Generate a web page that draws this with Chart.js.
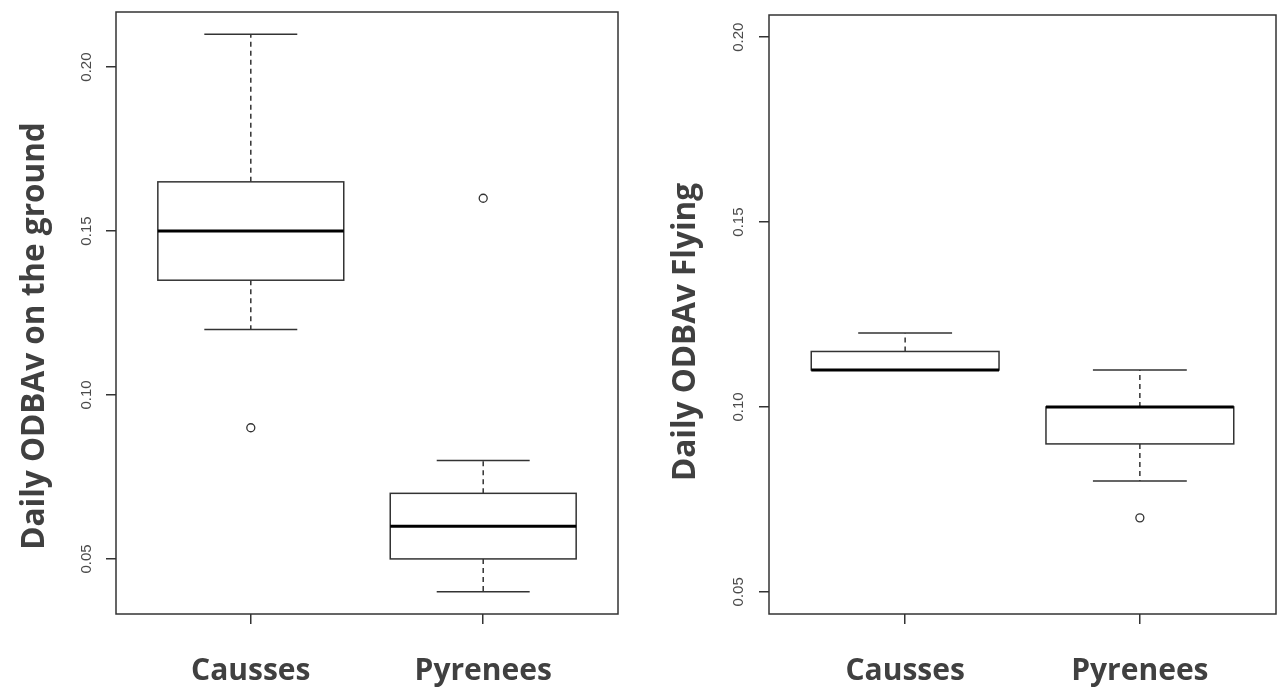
<!DOCTYPE html>
<html>
<head>
<meta charset="utf-8">
<script src="https://cdn.jsdelivr.net/npm/chart.js@4.4.1/dist/chart.umd.min.js"></script>
<style>
  html, body { margin: 0; padding: 0; background: #ffffff; }
  body { width: 1277px; height: 690px; position: relative; overflow: hidden; }
  .panel { position: absolute; top: 0; height: 690px; }
  #p1 { left: 0; width: 640px; }
  #p2 { left: 640px; width: 637px; }
</style>
</head>
<body>
<div class="panel" id="p1"><canvas id="c1"></canvas></div>
<div class="panel" id="p2"><canvas id="c2"></canvas></div>
<script>
// ---------- data ----------
const categories = ['Causses', 'Pyrenees'];
const categoryPositions = [1, 2];

// Left panel: Daily ODBAv on the ground
const groundWhiskerLow  = [0.12, 0.04];
const groundQ1          = [0.135, 0.05];
const groundMedian      = [0.15, 0.06];
const groundQ3          = [0.165, 0.07];
const groundWhiskerHigh = [0.21, 0.08];
const groundOutliers    = [[0.09], [0.16]];

// Right panel: Daily ODBAv Flying
const flyWhiskerLow  = [0.11, 0.08];
const flyQ1          = [0.11, 0.09];
const flyMedian      = [0.11, 0.10];
const flyQ3          = [0.115, 0.10];
const flyWhiskerHigh = [0.12, 0.11];
const flyOutliers    = [[], [0.07]];

const yTickValues = [0.05, 0.10, 0.15, 0.20];
const groundTitle = 'Daily ODBAv on the ground';
const flyTitle = 'Daily ODBAv Flying';

// R-style 4% axis extension
function rRange(lo, hi) { const d = (hi - lo) * 0.04; return [lo - d, hi + d]; }
const xRange = rRange(0.5, 2.5);
const groundYRange = rRange(Math.min(...groundWhiskerLow, ...groundOutliers.flat()),
                            Math.max(...groundWhiskerHigh, ...groundOutliers.flat()));
const flyYRange = rRange(0.05, 0.20);

// ---------- styling ----------
const LINE = '#333333';
const TEXT = '#404040';
const TICK_TEXT = '#4a4a4a';

function boxPlugin(stats, title, titleOffsetX, titleCenterY) {
  return {
    id: 'boxdraw',
    beforeDatasetsDraw(chart) {
      const ctx = chart.ctx;
      const xs = chart.scales.x, ys = chart.scales.y;
      const ca = chart.chartArea;
      ctx.save();
      for (let i = 0; i < categoryPositions.length; i++) {
        const c = categoryPositions[i];
        const xl = xs.getPixelForValue(c - 0.4), xr = xs.getPixelForValue(c + 0.4);
        const cl = xs.getPixelForValue(c - 0.2), cr = xs.getPixelForValue(c + 0.2);
        const xc = xs.getPixelForValue(c);
        const yLo = ys.getPixelForValue(stats.low[i]);
        const yQ1 = ys.getPixelForValue(stats.q1[i]);
        const yMed = ys.getPixelForValue(stats.med[i]);
        const yQ3 = ys.getPixelForValue(stats.q3[i]);
        const yHi = ys.getPixelForValue(stats.high[i]);
        ctx.strokeStyle = LINE;
        ctx.lineWidth = 1.5;
        // whiskers (dashed)
        ctx.setLineDash([5, 4]);
        ctx.beginPath();
        ctx.moveTo(xc, yQ3); ctx.lineTo(xc, yHi);
        ctx.moveTo(xc, yQ1); ctx.lineTo(xc, yLo);
        ctx.stroke();
        ctx.setLineDash([]);
        // caps
        ctx.beginPath();
        ctx.moveTo(cl, yHi); ctx.lineTo(cr, yHi);
        ctx.moveTo(cl, yLo); ctx.lineTo(cr, yLo);
        ctx.stroke();
        // box
        ctx.fillStyle = '#ffffff';
        ctx.fillRect(xl, yQ3, xr - xl, yQ1 - yQ3);
        ctx.strokeRect(xl, yQ3, xr - xl, yQ1 - yQ3);
        // median
        ctx.strokeStyle = '#000000';
        ctx.lineWidth = 3;
        ctx.beginPath();
        ctx.moveTo(xl, yMed); ctx.lineTo(xr, yMed);
        ctx.stroke();
      }
      // frame
      ctx.strokeStyle = LINE;
      ctx.lineWidth = 1.5;
      ctx.strokeRect(ca.left, ca.top, ca.right - ca.left, ca.bottom - ca.top);
      // y title
      ctx.fillStyle = TEXT;
      ctx.font = 'bold 31.5px "Open Sans"';
      ctx.textAlign = 'center';
      ctx.textBaseline = 'middle';
      ctx.translate(ca.left - titleOffsetX, titleCenterY);
      ctx.rotate(-Math.PI / 2);
      ctx.fillText(title, 0, 0);
      ctx.restore();
    }
  };
}

function makeChart(canvasId, stats, outliers, yRange, title, layout) {
  const outlierPoints = [];
  outliers.forEach((arr, i) => arr.forEach(v => outlierPoints.push({ x: categoryPositions[i], y: v })));
  return new Chart(document.getElementById(canvasId), {
    type: 'scatter',
    data: {
      datasets: [{
        data: outlierPoints,
        pointStyle: 'circle',
        pointRadius: 4,
        pointBorderWidth: 1.3,
        pointBorderColor: LINE,
        pointBackgroundColor: '#ffffff'
      }]
    },
    options: {
      responsive: true,
      maintainAspectRatio: false,
      animation: false,
      layout: { padding: layout.padding, autoPadding: false },
      plugins: { legend: { display: false }, tooltip: { enabled: false } },
      scales: {
        x: {
          type: 'linear',
          min: xRange[0], max: xRange[1],
          afterBuildTicks(scale) { scale.ticks = categoryPositions.map(v => ({ value: v })); },
          afterFit(scale) {
            scale.height = layout.xAxisHeight;
            scale.paddingLeft = 0; scale.paddingRight = 0;
          },
          border: { display: false },
          grid: { display: true, drawOnChartArea: false, drawTicks: true, tickLength: 10, color: LINE, lineWidth: 1.5 },
          ticks: {
            autoSkip: false,
            maxRotation: 0, minRotation: 0,
            padding: 29,
            color: TEXT,
            font: { family: '"Open Sans"', weight: 'bold', size: 30 },
            callback(v) { const i = categoryPositions.indexOf(v); return i >= 0 ? categories[i] : ''; }
          }
        },
        y: {
          type: 'linear',
          min: yRange[0], max: yRange[1],
          afterBuildTicks(scale) { scale.ticks = yTickValues.map(v => ({ value: v })); },
          afterFit(scale) {
            scale.width = layout.yAxisWidth;
            scale.paddingTop = 0; scale.paddingBottom = 0;
          },
          border: { display: false },
          grid: { display: true, drawOnChartArea: false, drawTicks: true, tickLength: 10, color: LINE, lineWidth: 1.5 },
          ticks: {
            minRotation: 90, maxRotation: 90,
            crossAlign: 'center',
            padding: layout.yTickPad,
            color: TICK_TEXT,
            font: { family: '"Liberation Sans"', size: 15 },
            callback(v) { return Number(v).toFixed(2); }
          }
        }
      }
    },
    plugins: [boxPlugin(stats, title, layout.titleOffsetX, layout.titleCenterY)]
  });
}

makeChart('c1',
  { low: groundWhiskerLow, q1: groundQ1, med: groundMedian, q3: groundQ3, high: groundWhiskerHigh },
  groundOutliers, groundYRange, groundTitle,
  { padding: { top: 12, right: 22, bottom: 0, left: 0 }, xAxisHeight: 76, yAxisWidth: 116, yTickPad: 5, titleOffsetX: 81, titleCenterY: 336 });

makeChart('c2',
  { low: flyWhiskerLow, q1: flyQ1, med: flyMedian, q3: flyQ3, high: flyWhiskerHigh },
  flyOutliers, flyYRange, flyTitle,
  { padding: { top: 15, right: 1, bottom: 0, left: 0 }, xAxisHeight: 76, yAxisWidth: 129, yTickPad: 6, titleOffsetX: 83, titleCenterY: 332 });
</script>
</body>
</html>
